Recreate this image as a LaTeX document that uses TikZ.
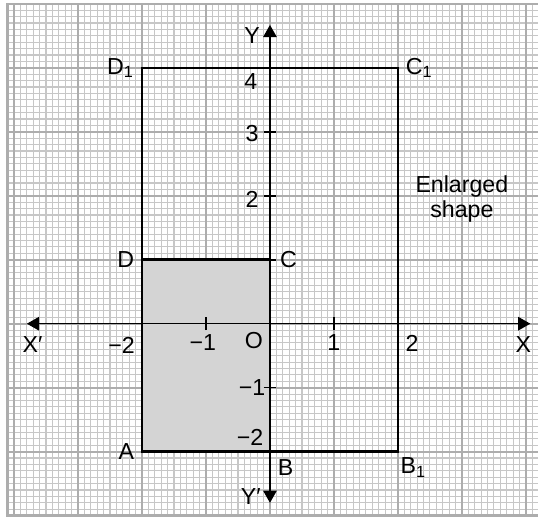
\documentclass[tikz,border=0pt]{standalone}
\usepackage{fontspec}
\setmainfont{Liberation Sans}
\usetikzlibrary{arrows.meta}
\tikzset{
  minorgrid/.style={black!22,line width=0.5pt},
  majorgrid/.style={black!32,line width=0.85pt},
  shapeline/.style={line width=1.1pt},
  axis/.style={line width=0.7pt},
  axistip/.tip={Triangle[length=1.9mm,width=2.1mm]},
  lbl/.style={font=\fontsize{10.3}{12}\selectfont}
}
\begin{document}
\begin{tikzpicture}[lbl]
      \useasboundingbox (-4.22,-3.02) rectangle (4.19,5.06);

      % Graph paper
      \draw[minorgrid,step=0.1] (-4.1,-3) grid (4.19,5);
      \draw[majorgrid,step=1] (-4.1,-3) grid (4.19,5);
      \draw[black!32,line width=1.1pt] (4.19,5) -- (-4.1,5) -- (-4.1,-3) -- (4.19,-3);

      % Corners
      \coordinate (O) at (0,0);
      \coordinate (A) at (-2,-2);
      \coordinate (B) at (0,-2);
      \coordinate (C) at (0,1);
      \coordinate (D) at (-2,1);
      \coordinate (B1) at (2,-2);
      \coordinate (C1) at (2,4);
      \coordinate (D1) at (-2,4);

      % Shapes
      \fill[black!17] (A) rectangle (C);
      \draw[shapeline] (A) -- (B1) -- (C1) -- (D1) -- cycle;
      \draw[shapeline] (D) -- (C) -- (B);

      % Axes
      \coordinate (xl) at (-3.8,0);
      \coordinate (xr) at (4.07,0);
      \coordinate (yb) at (0,-2.8);
      \coordinate (yt) at (0,4.67);
      \draw[axis,axistip-axistip] (xl) -- (xr);
      \draw[axis,axistip-axistip] (yb) -- (yt);

      % Ticks
      \foreach \x in {-1,1}
        \draw[axis] (\x,-0.1) -- (\x,0.1);
      \foreach \y in {-1,1,2,3}
        \draw[axis] (-0.1,\y) -- (0.1,\y);

      % Labelling
      \node (lX) at (3.96,-0.33) {X};
      \node (lXp) at (-3.71,-0.33) {X′};
      \node (lY) at (-0.28,4.5) {Y};
      \node (lYp) at (-0.3,-2.7) {Y′};
      \node (lO) at (-0.25,-0.27) {O};
      \node (xm2) at (-2.32,-0.34) {−2};
      \node (xm1) at (-1.05,-0.3) {−1};
      \node (xp1) at (1.0,-0.3) {1};
      \node (xp2) at (2.22,-0.31) {2};
      \node (yp4) at (-0.3,3.78) {4};
      \node (yp3) at (-0.28,2.97) {3};
      \node (yp2) at (-0.28,1.95) {2};
      \node (ym1) at (-0.28,-1.0) {−1};
      \node (ym2) at (-0.31,-1.77) {−2};

      \node (lA) [left] at (A) {A};
      \node (lB) [below right] at (B) {B};
      \node (lC) [right,xshift=1pt] at (C) {C};
      \node (lD) [left] at (D) {D};
      \node (lB1) [anchor=north west,inner sep=1pt,yshift=-1.5pt] at (B1) {B\textsubscript{1}};
      \node (lC1) [right] at (C1) {C\textsubscript{1}};
      \node (lD1) [left] at (D1) {D\textsubscript{1}};

      \node (enl) [align=center,font=\fontsize{10.3}{11.5}\selectfont] at (3.0,1.95) {Enlarged\\shape};
    \end{tikzpicture}
\end{document}
